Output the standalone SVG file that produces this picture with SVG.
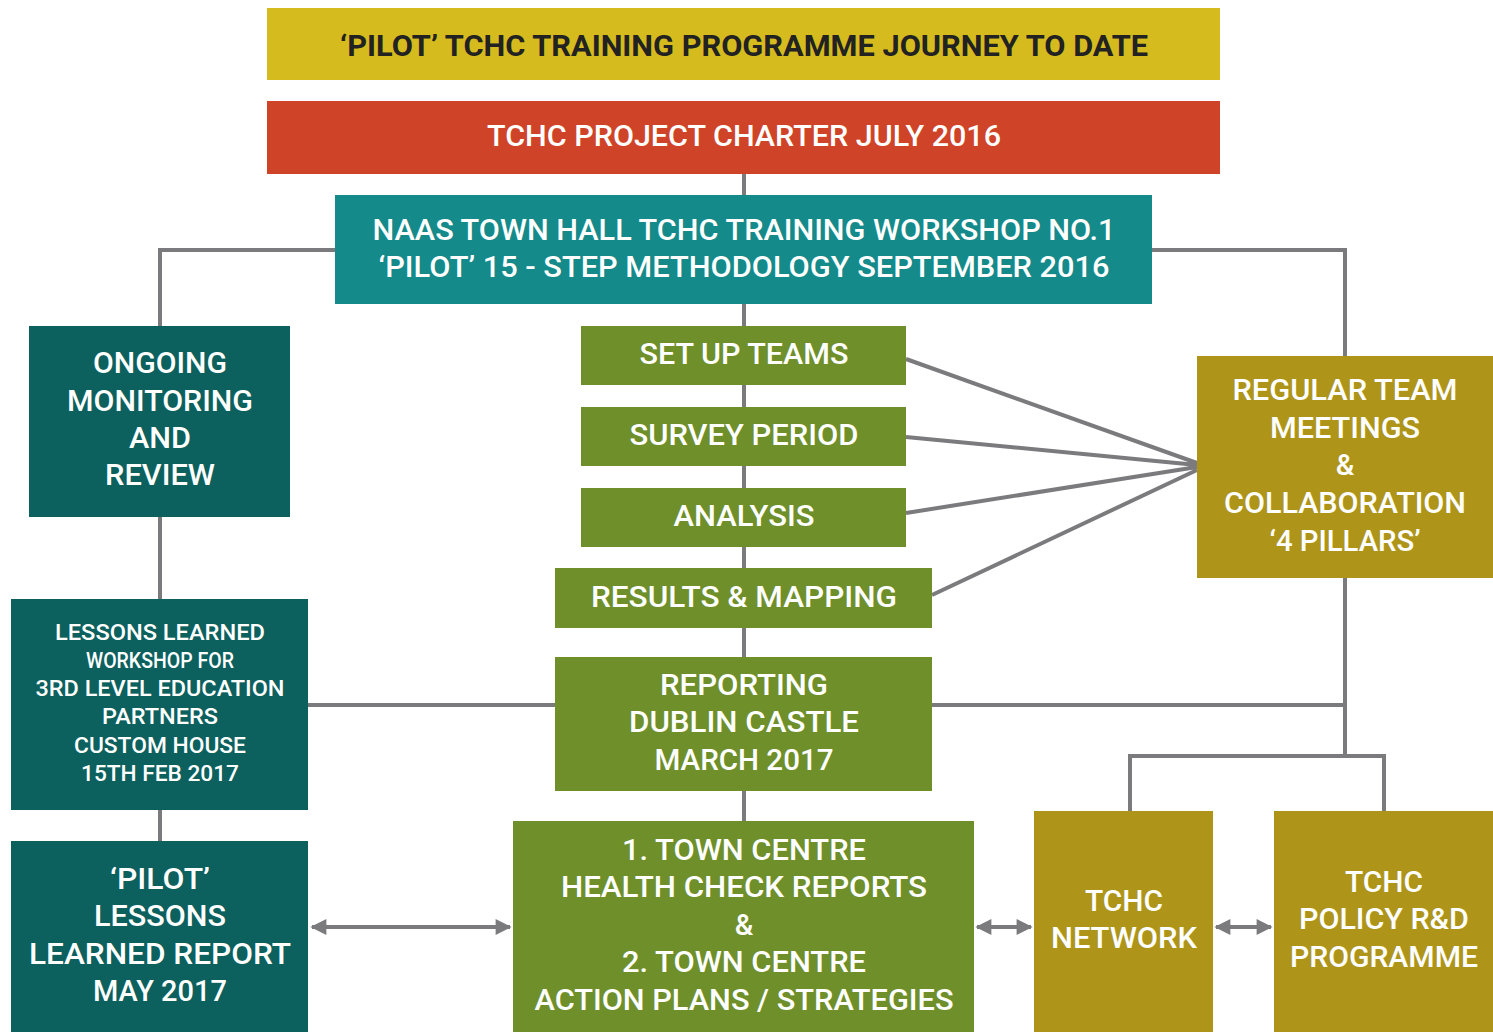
<svg xmlns="http://www.w3.org/2000/svg" width="1493" height="1032" viewBox="0 0 1493 1032">
<defs>
<marker id="ah" viewBox="0 0 10 10" refX="9" refY="5" markerWidth="5" markerHeight="4" orient="auto-start-reverse" markerUnits="strokeWidth">
<path d="M0,0 L10,5 L0,10 z" fill="#7b7b7d"/>
</marker>
<style>
.ln{stroke:#7b7b7d;stroke-width:4;fill:none}
.t{font-family:Roboto,"Liberation Sans",sans-serif;font-weight:500;fill:#fff;text-anchor:middle;font-size:29px}
.s{font-size:22px}
.title{fill:#222;font-weight:700}
.yel{fill:#d5bb1e}.red{fill:#cf4428}.teal{fill:#148a8b}.dk{fill:#0c605e}.grn{fill:#6f8f2b}.olv{fill:#ae951a}
</style>
</defs>
<rect width="1493" height="1032" fill="#fff"/>
<g id="connectors">
<path class="ln" d="M744,174V195M744,304V326M744,385V407M744,466V488M744,547V568M744,628V657M744,791V821"/>
<path class="ln" d="M335,250H160V326M160,517V599M160,810V841M308,705H555"/>
<path class="ln" d="M1152,250H1345V356M1345,578V756M932,705H1345M1130,811V756H1384V811"/>
<path class="ln" d="M906,359L1197,463M906,437L1197,465M906,513L1197,467M932,595L1197,470"/>
<path class="ln" d="M312,927H510" marker-start="url(#ah)" marker-end="url(#ah)"/>
<path class="ln" d="M977,927H1031" marker-start="url(#ah)" marker-end="url(#ah)"/>
<path class="ln" d="M1216,927H1271" marker-start="url(#ah)" marker-end="url(#ah)"/>
</g>
<g id="title"><rect class="yel" x="267" y="8" width="953" height="72"/>
<text class="t title" x="744" y="56" textLength="808" lengthAdjust="spacingAndGlyphs">‘PILOT’ TCHC TRAINING PROGRAMME JOURNEY TO DATE</text></g>
<g id="charter"><rect class="red" x="267" y="101" width="953" height="73"/>
<text class="t" x="744" y="146" textLength="514" lengthAdjust="spacingAndGlyphs">TCHC PROJECT CHARTER JULY 2016</text></g>
<g id="naas"><rect class="teal" x="335" y="195" width="817" height="109"/>
<text class="t" x="744" y="240" textLength="743" lengthAdjust="spacingAndGlyphs">NAAS TOWN HALL TCHC TRAINING WORKSHOP NO.1</text>
<text class="t" x="744" y="277" textLength="731" lengthAdjust="spacingAndGlyphs">‘PILOT’ 15 - STEP METHODOLOGY SEPTEMBER 2016</text></g>
<g id="setup"><rect class="grn" x="581" y="326" width="325" height="59"/>
<text class="t" x="744" y="364" textLength="209" lengthAdjust="spacingAndGlyphs">SET UP TEAMS</text></g>
<g id="survey"><rect class="grn" x="581" y="407" width="325" height="59"/>
<text class="t" x="744" y="445" textLength="229" lengthAdjust="spacingAndGlyphs">SURVEY PERIOD</text></g>
<g id="analysis"><rect class="grn" x="581" y="488" width="325" height="59"/>
<text class="t" x="744" y="526" textLength="141" lengthAdjust="spacingAndGlyphs">ANALYSIS</text></g>
<g id="results"><rect class="grn" x="555" y="568" width="377" height="60"/>
<text class="t" x="744" y="607" textLength="306" lengthAdjust="spacingAndGlyphs">RESULTS &amp; MAPPING</text></g>
<g id="reporting"><rect class="grn" x="555" y="657" width="377" height="134"/>
<text class="t" x="744" y="695" textLength="168" lengthAdjust="spacingAndGlyphs">REPORTING</text>
<text class="t" x="744" y="732" textLength="230" lengthAdjust="spacingAndGlyphs">DUBLIN CASTLE</text>
<text class="t" x="744" y="770" textLength="179" lengthAdjust="spacingAndGlyphs">MARCH 2017</text></g>
<g id="towncentre"><rect class="grn" x="513" y="821" width="461" height="211"/>
<text class="t" x="744" y="860" textLength="244" lengthAdjust="spacingAndGlyphs">1. TOWN CENTRE</text>
<text class="t" x="744" y="897" textLength="366" lengthAdjust="spacingAndGlyphs">HEALTH CHECK REPORTS</text>
<text class="t" x="744" y="935">&amp;</text>
<text class="t" x="744" y="972" textLength="244" lengthAdjust="spacingAndGlyphs">2. TOWN CENTRE</text>
<text class="t" x="744" y="1010" textLength="419" lengthAdjust="spacingAndGlyphs">ACTION PLANS / STRATEGIES</text></g>
<g id="ongoing"><rect class="dk" x="29" y="326" width="261" height="191"/>
<text class="t" x="160" y="373" textLength="134" lengthAdjust="spacingAndGlyphs">ONGOING</text>
<text class="t" x="160" y="411" textLength="186" lengthAdjust="spacingAndGlyphs">MONITORING</text>
<text class="t" x="160" y="448" textLength="62" lengthAdjust="spacingAndGlyphs">AND</text>
<text class="t" x="160" y="485" textLength="110" lengthAdjust="spacingAndGlyphs">REVIEW</text></g>
<g id="workshop"><rect class="dk" x="11" y="599" width="297" height="211"/>
<text class="t s" x="160" y="640" textLength="210" lengthAdjust="spacingAndGlyphs">LESSONS LEARNED</text>
<text class="t s" x="160" y="668" textLength="148" lengthAdjust="spacingAndGlyphs">WORKSHOP FOR</text>
<text class="t s" x="160" y="696" textLength="249" lengthAdjust="spacingAndGlyphs">3RD LEVEL EDUCATION</text>
<text class="t s" x="160" y="724" textLength="116" lengthAdjust="spacingAndGlyphs">PARTNERS</text>
<text class="t s" x="160" y="753" textLength="172" lengthAdjust="spacingAndGlyphs">CUSTOM HOUSE</text>
<text class="t s" x="160" y="781" textLength="158" lengthAdjust="spacingAndGlyphs">15TH FEB 2017</text></g>
<g id="pilotreport"><rect class="dk" x="11" y="841" width="297" height="191"/>
<text class="t" x="160" y="889" textLength="100" lengthAdjust="spacingAndGlyphs">‘PILOT’</text>
<text class="t" x="160" y="926" textLength="132" lengthAdjust="spacingAndGlyphs">LESSONS</text>
<text class="t" x="160" y="964" textLength="262" lengthAdjust="spacingAndGlyphs">LEARNED REPORT</text>
<text class="t" x="160" y="1001" textLength="134" lengthAdjust="spacingAndGlyphs">MAY 2017</text></g>
<g id="regular"><rect class="olv" x="1197" y="356" width="296" height="222"/>
<text class="t" x="1345" y="400" textLength="225" lengthAdjust="spacingAndGlyphs">REGULAR TEAM</text>
<text class="t" x="1345" y="438" textLength="150" lengthAdjust="spacingAndGlyphs">MEETINGS</text>
<text class="t" x="1345" y="475">&amp;</text>
<text class="t" x="1345" y="513" textLength="242" lengthAdjust="spacingAndGlyphs">COLLABORATION</text>
<text class="t" x="1345" y="551" textLength="151" lengthAdjust="spacingAndGlyphs">‘4 PILLARS’</text></g>
<g id="network"><rect class="olv" x="1034" y="811" width="179" height="221"/>
<text class="t" x="1124" y="911" textLength="78" lengthAdjust="spacingAndGlyphs">TCHC</text>
<text class="t" x="1124" y="948" textLength="146" lengthAdjust="spacingAndGlyphs">NETWORK</text></g>
<g id="policy"><rect class="olv" x="1274" y="811" width="219" height="221"/>
<text class="t" x="1384" y="892" textLength="78" lengthAdjust="spacingAndGlyphs">TCHC</text>
<text class="t" x="1384" y="929" textLength="170" lengthAdjust="spacingAndGlyphs">POLICY R&amp;D</text>
<text class="t" x="1384" y="967" textLength="188" lengthAdjust="spacingAndGlyphs">PROGRAMME</text></g>
</svg>
